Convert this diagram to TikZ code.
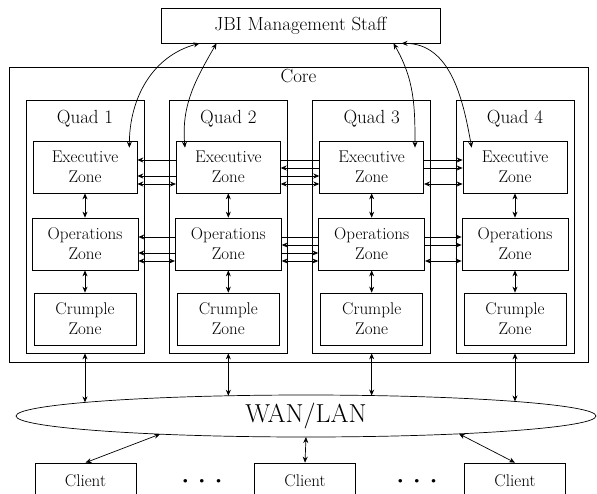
\documentclass[tikz,border=0pt]{standalone}
\usetikzlibrary{shapes.geometric, arrows.meta, backgrounds, calc}

\tikzset{
	box/.style={draw, line width=0.7pt, inner sep=0pt},
	zone/.style={box, fill=white, minimum height=52pt, align=center, font=\fontsize{17}{20}\selectfont},
	biglabel/.style={font=\fontsize{19}{22}\selectfont},
	client/.style={box, minimum width=101pt, minimum height=36pt, font=\fontsize{17}{20}\selectfont},
	link/.style={line width=0.7pt, {Stealth[length=6pt,width=5pt]}-{Stealth[length=6pt,width=5pt]}}
}

\begin{document}
\begin{tikzpicture}[x=1pt, y=-1pt]
	\useasboundingbox (0,0) rectangle (597,493);
	\node[box, minimum width=279pt, minimum height=35pt, biglabel] (jbi) at (300.5,25.5) {JBI Management Staff};
	\node[box, minimum width=579pt, minimum height=295pt] (core) at (298.5,214.5) {};
	\node[biglabel, anchor=base] (corelabel) at ([yshift=-16pt]core.north) {Core};
	
	\foreach \i in {1,2,3,4} {
		\pgfmathsetmacro{\quadx}{85+143.33*(\i-1)}
		\node[box, minimum width=118pt, minimum height=253pt] (quad\i) at (\quadx,226.5) {};
		\node[biglabel, anchor=base] (quadlabel\i) at ([yshift=-24pt]quad\i.north) {Quad \i};
		\node[zone, minimum width=104pt] (exec\i) at (\quadx,167) {Executive\\Zone};
		\node[zone, minimum width=106pt] (ops\i) at (\quadx,244) {Operations\\Zone};
		\node[zone, minimum width=102pt] (crumple\i) at (\quadx,319) {Crumple\\Zone};
		\draw[link] (exec\i) -- (ops\i);
		\draw[link] (ops\i) -- (crumple\i);
	}
	
	\begin{scope}[on background layer]
		\foreach \row in {exec, ops} {
			\draw[link] ([yshift=7pt]\row1.east) -- ([yshift=7pt]\row4.west);
			\draw[link] ([yshift=-1pt]\row2.east) -- ([yshift=-1pt]\row4.west);
			\draw[link] ([yshift=-9pt]\row1.east) -- ([yshift=-9pt]\row3.west);
			\draw[link] ([yshift=-17pt]\row1.east) -- ([yshift=-17pt]\row2.west);
			\draw[link] ([yshift=-17pt]\row2.east) -- ([yshift=-17pt]\row3.west);
			\draw[link] ([yshift=-17pt]\row3.east) -- ([yshift=-17pt]\row4.west);
		}
	\end{scope}
	
	\draw[link] ([xshift=-101pt]jbi.south) to[out=195, in=90] ($(exec1.north east)+(-8,7)$);
	\draw[link] ([xshift=-84pt]jbi.south) to[out=240, in=95] ($(exec2.north west)+(9,7)$);
	\draw[link] ([xshift=93pt]jbi.south) to[out=-60, in=90] ($(exec3.north east)+(-9,7)$);
	\draw[link] ([xshift=101pt]jbi.south) to[out=0, in=100] ($(exec4.north west)+(9,7)$);
	
	\node[draw, line width=0.7pt, ellipse, minimum width=580pt, minimum height=42pt, inner sep=0pt, font=\fontsize{26}{30}\selectfont] (wan) at (306,416) {WAN/LAN};
	\foreach \i in {1,2,3,4} {
		\draw[link] let \p1=($(quad\i.south)-(wan.center)$) in
			(quad\i.south) -- ($(wan.center)+(\x1,{21*sqrt(1-(\x1/290pt)^2)})$);
	}
	
	\node[client] (client1) at (85.5,481) {Client};
	\node[client] (client2) at (305,481) {Client};
	\node[client] (client3) at (515,481) {Client};
	\node[font=\fontsize{16}{18}\selectfont] (dots1) at (202,482) {\textbullet\hspace{5pt}\textbullet\hspace{5pt}\textbullet};
	\node[font=\fontsize{16}{18}\selectfont] (dots2) at (417,482) {\textbullet\hspace{5pt}\textbullet\hspace{5pt}\textbullet};
	\foreach \c/\dx in {1/-146, 2/0, 3/153} {
		\draw[link] (client\c.north) -- ($(wan.center)+(\dx,{21*sqrt(1-(\dx/290)^2)})$);
	}
\end{tikzpicture}
\end{document}
